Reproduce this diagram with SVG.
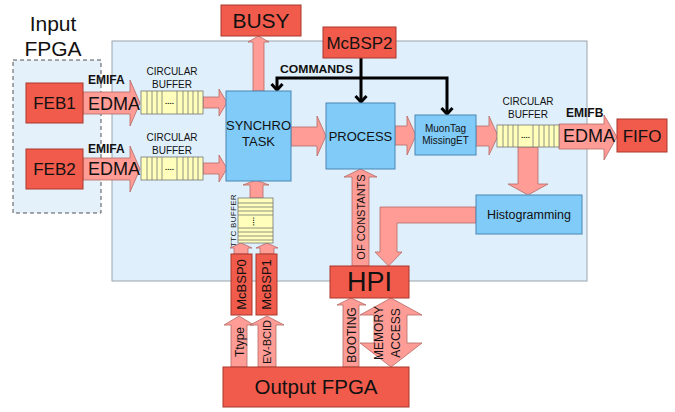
<svg xmlns="http://www.w3.org/2000/svg" width="675" height="412" viewBox="0 0 675 412">
<style>
  text { font-family: "Liberation Sans", Arial, sans-serif; fill: #111; }
  .red { fill: #f15b4c; stroke: #a8382c; stroke-width: 1; }
  .blue { fill: #80cbf8; stroke: #4b86b4; stroke-width: 1; }
  .arr { fill: #ff9c96; stroke: #b46a66; stroke-width: 0.8; }
  .buf { fill: #ffffbb; stroke: #777; stroke-width: 0.8; }
  .cell { stroke: #777; stroke-width: 0.8; }
  .cmd { fill: none; stroke: #000; stroke-width: 3; }
  .c { text-anchor: middle; }
  .bold { font-weight: bold; }
</style>
<defs>
  <marker id="chev" markerUnits="userSpaceOnUse" markerWidth="14" markerHeight="14" viewBox="-9 -7 11 14" refX="0" refY="0" orient="auto">
    <path d="M-6,-5.5 L0,0 L-6,5.5" fill="none" stroke="#000" stroke-width="3"/>
  </marker>
</defs>

<!-- background regions -->
<rect x="112" y="41" width="475" height="240" fill="#dfeffc" stroke="#9aa4ad" stroke-width="1"/>
<g id="input-fpga">
  <rect x="13" y="60" width="88" height="153" fill="#e4f0fa" stroke="#555" stroke-width="1" stroke-dasharray="4,3"/>
  <text x="53" y="31" class="c" font-size="21">Input</text>
  <text x="53" y="56" class="c" font-size="21">FPGA</text>
</g>

<!-- connectors -->
<g id="connectors">
  <polygon class="arr" points="83,92 130,92 130,80 140,103 130,126 130,114 83,114"/>
  <polygon class="arr" points="83,158 130,158 130,146 140,169 130,192 130,180 83,180"/>
  <polygon class="arr" points="203,97 219,97 219,89 227,102.5 219,116 219,108 203,108"/>
  <polygon class="arr" points="203,163 219,163 219,155 227,168.5 219,182 219,174 203,174"/>
  <polygon class="arr" points="291,127 317,127 317,116 326,136 317,156 317,146 291,146"/>
  <polygon class="arr" points="395,126 407,126 407,116 416,135.5 407,155 407,145 395,145"/>
  <polygon class="arr" points="476,126 489,126 489,116 498,136 489,155 489,146 476,146"/>
  <polygon class="arr" points="559,124 604,124 604,115 617,137 604,160 604,149 559,149"/>
  <polygon class="arr" points="518,147 538,147 538,184 548,184 528,195 508,184 518,184"/>
  <polygon class="arr" points="476,207 380,207 380,252 375,252 388.5,266 402,252 397,252 397,223 476,223"/>
  <polygon class="arr" points="352,266 352,177 344,177 360.5,169 377,177 369,177 369,266"/>
  <polygon class="arr" points="253,91 253,42 248,42 258.5,36 269,42 264,42 264,91"/>
  <polygon class="arr" points="250,198 250,185 243,185 256,180 269,185 263,185 263,198"/>
  <polygon class="arr" points="234,254 234,248 230,248 241,243 252,248 248,248 248,254"/>
  <polygon class="arr" points="260,254 260,248 256,248 267,243 278,248 274,248 274,254"/>
  <polygon class="arr" points="231,367 231,325 224,325 239,316 254,325 247,325 247,367"/>
  <polygon class="arr" points="258,367 258,325 250,325 267,316 284,325 276,325 276,367"/>
  <polygon class="arr" points="343,367 343,305 337,305 351,298 366,305 359,305 359,367"/>
  <polygon class="arr" points="374,315 360,315 391,298 422,315 407,315 407,343 422,343 391,367 360,343 374,343"/>
  <path class="cmd" d="M361,58 V102" marker-end="url(#chev)"/>
  <path class="cmd" d="M361,78 H277 V90" marker-end="url(#chev)"/>
  <path class="cmd" d="M361,78 H447 V114" marker-end="url(#chev)"/>
</g>

<!-- connector labels -->
<g id="labels">
  <text x="88" y="84" class="bold" font-size="12">EMIFA</text>
  <text x="88" y="110" font-size="18">EDMA</text>
  <text x="88" y="153" class="bold" font-size="12">EMIFA</text>
  <text x="88" y="175" font-size="18">EDMA</text>
  <text x="566" y="117" class="bold" font-size="12">EMIFB</text>
  <text x="563" y="142" font-size="18">EDMA</text>
  <text x="280" y="73" class="bold" font-size="10.5" textLength="73" lengthAdjust="spacingAndGlyphs">COMMANDS</text>
  <text transform="translate(364.5,217) rotate(-90)" class="c" font-size="11">OF CONSTANTS</text>
  <text transform="translate(243.5,342) rotate(-90)" class="c" font-size="12">Ttype</text>
  <text transform="translate(271,342) rotate(-90)" class="c" font-size="11">EV-BCID</text>
  <text transform="translate(355.5,335) rotate(-90)" class="c" font-size="12">BOOTING</text>
  <text transform="translate(382.5,333) rotate(-90)" class="c" font-size="12">MEMORY</text>
  <text transform="translate(399.5,333) rotate(-90)" class="c" font-size="12">ACCESS</text>
</g>

<g id="feb1">
  <rect class="red" x="26" y="83" width="57" height="40"/>
  <text x="54.5" y="109" class="c" font-size="17">FEB1</text>
</g>
<g id="feb2">
  <rect class="red" x="26" y="149" width="57" height="40"/>
  <text x="54.5" y="175" class="c" font-size="17">FEB2</text>
</g>

<g id="buffer1">
  <text x="172" y="75" class="c" font-size="10">CIRCULAR</text>
  <text x="172" y="88" class="c" font-size="10">BUFFER</text>
  <rect class="buf" x="141" y="91" width="62" height="23"/>
  <path class="cell" d="M147,91V114M152,91V114M157,91V114M162,91V114M177,91V114M183,91V114M188,91V114M193,91V114M198,91V114"/>
  <text x="169.5" y="104" class="c bold" font-size="8">....</text>
</g>
<g id="buffer2">
  <text x="172" y="141" class="c" font-size="10">CIRCULAR</text>
  <text x="172" y="154" class="c" font-size="10">BUFFER</text>
  <rect class="buf" x="141" y="157" width="62" height="23"/>
  <path class="cell" d="M147,157V180M152,157V180M157,157V180M162,157V180M177,157V180M183,157V180M188,157V180M193,157V180M198,157V180"/>
  <text x="169.5" y="170" class="c bold" font-size="8">....</text>
</g>
<g id="buffer3">
  <text x="528" y="105" class="c" font-size="10">CIRCULAR</text>
  <text x="528" y="118" class="c" font-size="10">BUFFER</text>
  <rect class="buf" x="497" y="125" width="62" height="22"/>
  <path class="cell" d="M503,125V147M508,125V147M513,125V147M518,125V147M533,125V147M539,125V147M544,125V147M549,125V147M554,125V147"/>
  <text x="525.5" y="138" class="c bold" font-size="8">....</text>
</g>
<g id="ttc-buffer">
  <rect class="buf" x="238" y="198" width="35" height="45"/>
  <path class="cell" d="M238,203H273M238,207H273M238,211H273M238,215H273M238,228H273M238,232H273M238,236H273M238,240H273"/>
  <text transform="translate(253,221.5) rotate(90)" class="c bold" font-size="8">....</text>
  <text transform="translate(236,220.5) rotate(-90)" class="c" font-size="8" letter-spacing="0.3">TTC BUFFER</text>
</g>

<g id="busy">
  <rect class="red" x="221" y="5" width="80" height="31"/>
  <text x="261" y="28" class="c" font-size="21">BUSY</text>
</g>
<g id="mcbsp2">
  <rect class="red" x="323" y="27" width="73" height="31"/>
  <text x="359.5" y="49" class="c" font-size="17">McBSP2</text>
</g>
<g id="synchro">
  <rect class="blue" x="226" y="91" width="65" height="90"/>
  <text x="258.5" y="130" class="c" font-size="13">SYNCHRO</text>
  <text x="258.5" y="146" class="c" font-size="13">TASK</text>
</g>
<g id="process">
  <rect class="blue" x="326" y="103" width="69" height="66"/>
  <text x="360.5" y="141" class="c" font-size="13">PROCESS</text>
</g>
<g id="muontag">
  <rect class="blue" x="415" y="115" width="61" height="40"/>
  <text x="445.5" y="132" class="c" font-size="10">MuonTag</text>
  <text x="445.5" y="144" class="c" font-size="10">MissingET</text>
</g>
<g id="fifo">
  <rect class="red" x="617" y="119" width="50" height="33"/>
  <text x="642" y="142" class="c" font-size="17">FIFO</text>
</g>
<g id="histogramming">
  <rect class="blue" x="476" y="195" width="106" height="39"/>
  <text x="529" y="219" class="c" font-size="12.5">Histogramming</text>
</g>
<g id="hpi">
  <rect class="red" x="330" y="266" width="79" height="32"/>
  <text x="369.5" y="291" class="c" font-size="27">HPI</text>
</g>
<g id="mcbsp0">
  <rect class="red" x="231" y="254" width="21" height="61"/>
  <text transform="translate(246,284.5) rotate(-90)" class="c" font-size="13">McBSP0</text>
</g>
<g id="mcbsp1">
  <rect class="red" x="256" y="254" width="21" height="61"/>
  <text transform="translate(271,284.5) rotate(-90)" class="c" font-size="13">McBSP1</text>
</g>
<g id="output-fpga">
  <rect class="red" x="223" y="367" width="186" height="40"/>
  <text x="316" y="394" class="c" font-size="20.5">Output FPGA</text>
</g>
</svg>
